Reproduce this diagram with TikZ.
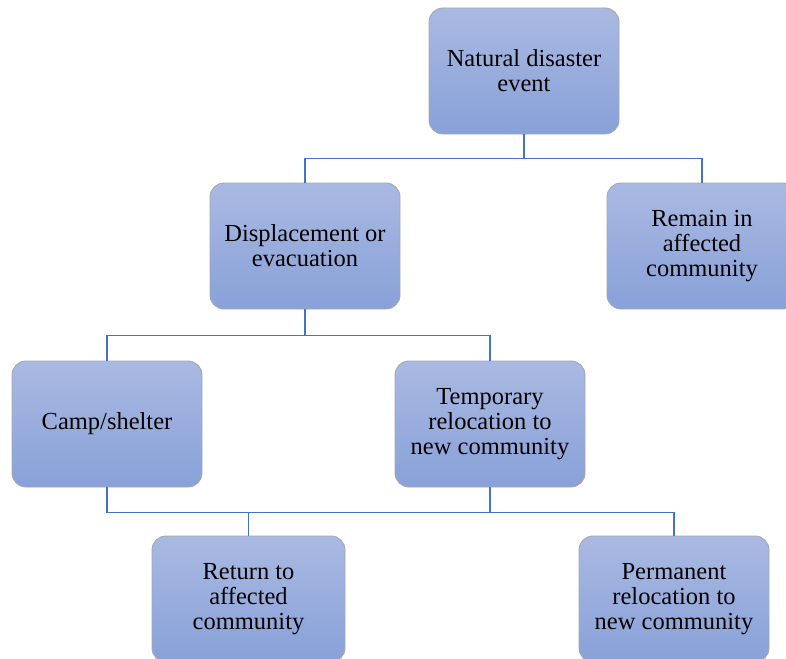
\documentclass[tikz,border=0pt]{standalone}
\usepackage{fontspec}
\setmainfont{Liberation Serif}
\definecolor{boxtop}{HTML}{AAB9E2}
\definecolor{boxbot}{HTML}{88A1D8}
\definecolor{boxedge}{HTML}{A3A8B4}
\definecolor{linkblue}{HTML}{4472C4}
\begin{document}
\begin{tikzpicture}[x=1pt,y=-1pt,
  box/.style={draw=boxedge, line width=0.9pt, rounded corners=14pt,
    top color=boxtop, bottom color=boxbot,
    minimum width=190pt, minimum height=126pt, inner sep=0pt,
    align=center, font=\fontsize{24.5}{25}\selectfont},
  link/.style={draw=linkblue, line width=1.4pt}]
\useasboundingbox (0,0) rectangle (786,658);
\clip (0,0) rectangle (786,658);

% boxes
\node[box] (event)  at (524,71)    {Natural disaster\\event};
\node[box] (displ)  at (305,246)   {Displacement or\\evacuation};
\node[box] (remain) at (702,246)   {Remain in\\affected\\community};
\node[box] (camp)   at (107,424)   {Camp/shelter};
\node[box] (temp)   at (490,424)   {Temporary\\relocation to\\new community};
\node[box, minimum width=193pt] (return) at (248.5,599) {Return to\\affected\\community};
\node[box] (perm)   at (674,599)   {Permanent\\relocation to\\new community};

% bus junctions
\coordinate (bus1) at ([yshift=-24pt]event.south);
\coordinate (bus2) at ([yshift=-26pt]displ.south);
\coordinate (bus3) at ([yshift=-25pt]temp.south);

% connectors
\draw[link] (event.south) -- (bus1);
\draw[link] (displ.north) |- (bus1) -| (remain.north);
\draw[link] (displ.south) -- (bus2);
\draw[link] (camp.north) |- (bus2) -| (temp.north);
\draw[link] (temp.south) -- (bus3);
\draw[link] (camp.south) |- (bus3) -| (perm.north);
\draw[link] (return.north) -- (return.north |- bus3);
\end{tikzpicture}
\end{document}
